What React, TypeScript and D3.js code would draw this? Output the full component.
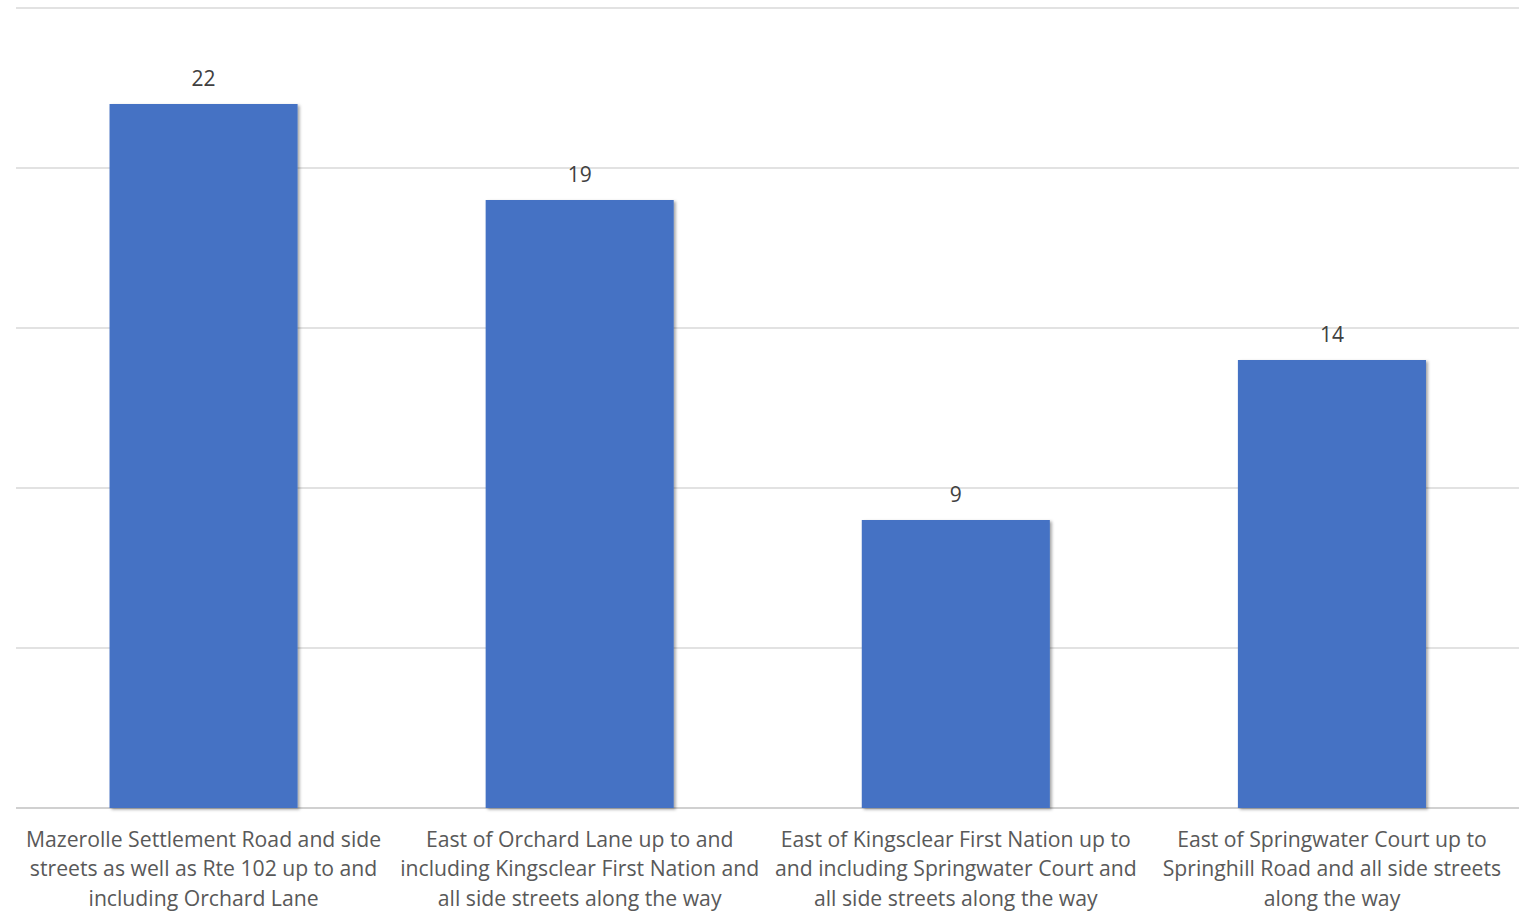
import React from "react";
import * as d3 from "d3";

const categories: string[][] = [
  ["Mazerolle Settlement Road and side", "streets as well as Rte 102 up to and", "including Orchard Lane"],
  ["East of Orchard Lane up to and", "including Kingsclear First Nation and", "all side streets along the way"],
  ["East of Kingsclear First Nation up to", "and including Springwater Court and", "all side streets along the way"],
  ["East of Springwater Court up to", "Springhill Road and all side streets", "along the way"],
];
const values: number[] = [22, 19, 9, 14];
const gridTicks: number[] = [0, 5, 10, 15, 20, 25];

export default function App() {
  const W = 1519;
  const H = 911;
  const left = 15.5;
  const right = 1520;
  const top = 8;
  const bottom = 808;
  const ids = categories.map((_, i) => String(i));
  const x = d3.scaleBand<string>().domain(ids).range([left, right]).paddingInner(0.5).paddingOuter(0.25);
  const y = d3.scaleLinear().domain([0, 25]).range([bottom, top]);
  const font = "'Open Sans', 'Noto Sans', sans-serif";
  return (
    <svg width={W} height={H} style={{ position: "fixed", left: 0, top: 0, background: "#fff" }}>
      <defs>
        <filter id="sh" x="-10%" y="-10%" width="130%" height="130%">
          <feDropShadow dx="2" dy="1.5" stdDeviation="1.8" floodColor="#000" floodOpacity="0.35" />
        </filter>
      </defs>
      {gridTicks.map((t) => (
        <line key={t} x1={16} x2={1519} y1={y(t)} y2={y(t)} stroke={t === 0 ? "#d0d0d0" : "#d9d9d9"} strokeWidth={t === 0 ? 2 : 1.5} />
      ))}
      {values.map((v, i) => (
        <rect key={i} x={x(ids[i])!} y={y(v)} width={x.bandwidth()} height={y(0) - y(v)} fill="#4472C4" filter="url(#sh)" />
      ))}
      {values.map((v, i) => (
        <text key={"v" + i} x={x(ids[i])! + x.bandwidth() / 2} y={y(v) - 18} textAnchor="middle" fontFamily={font} fontSize={21} fill="#404040">
          {v}
        </text>
      ))}
      {categories.map((lines, i) => (
        <text key={"c" + i} x={x(ids[i])! + x.bandwidth() / 2} textAnchor="middle" fontFamily={font} fontSize={21.2} fill="#595959">
          {lines.map((l, j) => (
            <tspan key={j} x={x(ids[i])! + x.bandwidth() / 2} y={847 + j * 29.3}>
              {l}
            </tspan>
          ))}
        </text>
      ))}
    </svg>
  );
}
